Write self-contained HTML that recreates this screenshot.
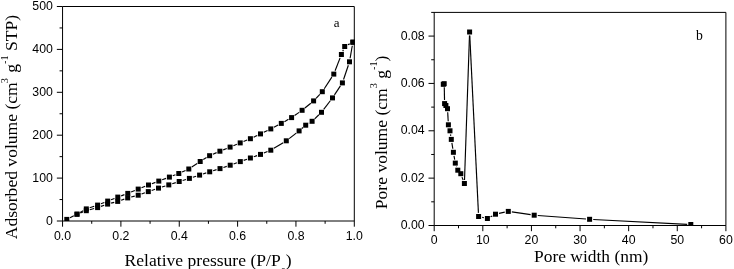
<!DOCTYPE html>
<html lang="en"><head><meta charset="utf-8"><title>Adsorption isotherm and pore size distribution</title>
<style>html,body{margin:0;padding:0;background:#fff;overflow:hidden}svg{display:block}</style>
</head><body>
<svg width="734" height="269" viewBox="0 0 734 269">
<defs><clipPath id="cr"><rect x="434.2" y="12.4" width="291.7" height="213.4"/></clipPath><clipPath id="cl"><rect x="62.55" y="6.5" width="292.25" height="214.4"/></clipPath></defs>
<rect width="734" height="269" fill="#fff"/>
<g stroke="#000" stroke-width="1" fill="none"><path d="M62.55 6.5H354.3V221.0H62.55V6.5"/><line x1="62.55" y1="221.0" x2="62.55" y2="226.7"/><line x1="91.72" y1="221.0" x2="91.72" y2="223.8"/><line x1="120.90" y1="221.0" x2="120.90" y2="226.7"/><line x1="150.07" y1="221.0" x2="150.07" y2="223.8"/><line x1="179.25" y1="221.0" x2="179.25" y2="226.7"/><line x1="208.43" y1="221.0" x2="208.43" y2="223.8"/><line x1="237.60" y1="221.0" x2="237.60" y2="226.7"/><line x1="266.77" y1="221.0" x2="266.77" y2="223.8"/><line x1="295.95" y1="221.0" x2="295.95" y2="226.7"/><line x1="325.12" y1="221.0" x2="325.12" y2="223.8"/><line x1="354.30" y1="221.0" x2="354.30" y2="226.7"/><line x1="56.849999999999994" y1="221.00" x2="62.55" y2="221.00"/><line x1="59.55" y1="199.55" x2="62.55" y2="199.55"/><line x1="56.849999999999994" y1="178.10" x2="62.55" y2="178.10"/><line x1="59.55" y1="156.65" x2="62.55" y2="156.65"/><line x1="56.849999999999994" y1="135.20" x2="62.55" y2="135.20"/><line x1="59.55" y1="113.75" x2="62.55" y2="113.75"/><line x1="56.849999999999994" y1="92.30" x2="62.55" y2="92.30"/><line x1="59.55" y1="70.85" x2="62.55" y2="70.85"/><line x1="56.849999999999994" y1="49.40" x2="62.55" y2="49.40"/><line x1="59.55" y1="27.95" x2="62.55" y2="27.95"/><line x1="56.849999999999994" y1="6.50" x2="62.55" y2="6.50"/></g><g font-family="Liberation Sans, Arial, sans-serif" font-size="12.3" fill="#000"><text x="62.55" y="240.3" text-anchor="middle">0.0</text><text x="120.90" y="240.3" text-anchor="middle">0.2</text><text x="179.25" y="240.3" text-anchor="middle">0.4</text><text x="237.60" y="240.3" text-anchor="middle">0.6</text><text x="295.95" y="240.3" text-anchor="middle">0.8</text><text x="354.30" y="240.3" text-anchor="middle">1.0</text><text x="52.9" y="224.55" text-anchor="end">0</text><text x="52.9" y="181.65" text-anchor="end">100</text><text x="52.9" y="138.75" text-anchor="end">200</text><text x="52.9" y="95.85" text-anchor="end">300</text><text x="52.9" y="52.95" text-anchor="end">400</text><text x="52.9" y="10.05" text-anchor="end">500</text></g>
<g clip-path="url(#cl)"><g stroke="#000" stroke-width="1.15" fill="none"><line x1="70.01" y1="217.76" x2="73.79" y2="215.84"/><line x1="80.37" y1="212.93" x2="82.93" y2="211.97"/><line x1="89.77" y1="209.75" x2="94.13" y2="208.55"/><line x1="101.00" y1="206.41" x2="104.20" y2="205.29"/><line x1="111.08" y1="203.17" x2="114.22" y2="202.33"/><line x1="121.10" y1="200.21" x2="124.30" y2="199.09"/><line x1="131.19" y1="197.00" x2="134.71" y2="196.10"/><line x1="141.59" y1="193.99" x2="144.91" y2="192.81"/><line x1="151.71" y1="190.43" x2="155.09" y2="189.27"/><line x1="161.94" y1="187.03" x2="165.36" y2="185.97"/><line x1="172.22" y1="183.78" x2="175.78" y2="182.62"/><line x1="182.64" y1="180.45" x2="185.96" y2="179.45"/><line x1="192.83" y1="177.29" x2="196.17" y2="176.21"/><line x1="203.02" y1="173.98" x2="206.28" y2="172.92"/><line x1="213.14" y1="170.73" x2="216.56" y2="169.67"/><line x1="223.42" y1="167.46" x2="226.78" y2="166.34"/><line x1="233.59" y1="163.99" x2="236.91" y2="162.81"/><line x1="243.69" y1="160.39" x2="247.01" y2="159.21"/><line x1="253.79" y1="156.79" x2="257.11" y2="155.61"/><line x1="263.83" y1="153.04" x2="267.47" y2="151.56"/><line x1="273.88" y1="148.33" x2="283.22" y2="142.67"/><line x1="289.15" y1="138.60" x2="296.25" y2="133.10"/><line x1="301.82" y1="128.55" x2="302.98" y2="127.55"/><line x1="308.77" y1="123.33" x2="309.03" y2="123.17"/><line x1="314.70" y1="118.81" x2="318.90" y2="114.79"/><line x1="323.69" y1="109.44" x2="330.31" y2="100.76"/><line x1="334.48" y1="94.90" x2="340.42" y2="85.90"/><line x1="343.55" y1="79.49" x2="348.35" y2="65.21"/><line x1="350.12" y1="58.25" x2="352.28" y2="45.75"/></g><g fill="#000"><rect x="64.30" y="216.90" width="5.0" height="5.0"/><rect x="74.50" y="211.70" width="5.0" height="5.0"/><rect x="83.80" y="208.20" width="5.0" height="5.0"/><rect x="95.10" y="205.10" width="5.0" height="5.0"/><rect x="105.10" y="201.60" width="5.0" height="5.0"/><rect x="115.20" y="198.90" width="5.0" height="5.0"/><rect x="125.20" y="195.40" width="5.0" height="5.0"/><rect x="135.70" y="192.70" width="5.0" height="5.0"/><rect x="145.80" y="189.10" width="5.0" height="5.0"/><rect x="156.00" y="185.60" width="5.0" height="5.0"/><rect x="166.30" y="182.40" width="5.0" height="5.0"/><rect x="176.70" y="179.00" width="5.0" height="5.0"/><rect x="186.90" y="175.90" width="5.0" height="5.0"/><rect x="197.10" y="172.60" width="5.0" height="5.0"/><rect x="207.20" y="169.30" width="5.0" height="5.0"/><rect x="217.50" y="166.10" width="5.0" height="5.0"/><rect x="227.70" y="162.70" width="5.0" height="5.0"/><rect x="237.80" y="159.10" width="5.0" height="5.0"/><rect x="247.90" y="155.50" width="5.0" height="5.0"/><rect x="258.00" y="151.90" width="5.0" height="5.0"/><rect x="268.30" y="147.70" width="5.0" height="5.0"/><rect x="283.80" y="138.30" width="5.0" height="5.0"/><rect x="296.60" y="128.40" width="5.0" height="5.0"/><rect x="303.20" y="122.70" width="5.0" height="5.0"/><rect x="309.60" y="118.80" width="5.0" height="5.0"/><rect x="319.00" y="109.80" width="5.0" height="5.0"/><rect x="330.00" y="95.40" width="5.0" height="5.0"/><rect x="339.90" y="80.40" width="5.0" height="5.0"/><rect x="347.00" y="59.30" width="5.0" height="5.0"/><rect x="350.40" y="39.70" width="5.0" height="5.0"/></g><g stroke="#000" stroke-width="1.15" fill="none"><line x1="349.71" y1="43.87" x2="347.89" y2="44.83"/><line x1="343.33" y1="49.83" x2="342.77" y2="51.17"/><line x1="340.10" y1="57.86" x2="335.10" y2="70.74"/><line x1="331.83" y1="77.11" x2="324.27" y2="88.69"/><line x1="319.83" y1="94.32" x2="316.07" y2="98.28"/><line x1="310.81" y1="103.18" x2="304.89" y2="108.02"/><line x1="299.14" y1="112.36" x2="294.56" y2="115.54"/><line x1="288.46" y1="119.37" x2="284.44" y2="121.63"/><line x1="278.11" y1="125.07" x2="273.99" y2="127.23"/><line x1="267.56" y1="130.47" x2="263.74" y2="132.33"/><line x1="257.25" y1="135.45" x2="253.65" y2="137.15"/><line x1="247.07" y1="140.07" x2="243.53" y2="141.53"/><line x1="236.88" y1="144.28" x2="233.42" y2="145.72"/><line x1="226.76" y1="148.44" x2="223.24" y2="149.86"/><line x1="216.60" y1="152.64" x2="212.90" y2="154.26"/><line x1="206.54" y1="157.59" x2="203.26" y2="159.61"/><line x1="197.19" y1="163.48" x2="191.81" y2="167.02"/><line x1="185.52" y1="170.48" x2="182.08" y2="172.02"/><line x1="175.44" y1="174.79" x2="172.76" y2="175.81"/><line x1="166.03" y1="178.37" x2="162.17" y2="179.83"/><line x1="155.43" y1="182.37" x2="151.87" y2="183.73"/><line x1="145.16" y1="186.33" x2="141.54" y2="187.77"/><line x1="134.87" y1="190.48" x2="131.13" y2="192.02"/><line x1="124.42" y1="194.65" x2="121.18" y2="195.85"/><line x1="114.45" y1="198.43" x2="111.05" y2="199.77"/><line x1="104.35" y1="202.43" x2="100.95" y2="203.77"/><line x1="94.19" y1="206.25" x2="89.71" y2="207.75"/><line x1="83.17" y1="210.68" x2="80.13" y2="212.42"/></g><g fill="#000"><rect x="350.40" y="39.70" width="5.0" height="5.0"/><rect x="342.20" y="44.00" width="5.0" height="5.0"/><rect x="338.90" y="52.00" width="5.0" height="5.0"/><rect x="331.30" y="71.60" width="5.0" height="5.0"/><rect x="319.80" y="89.20" width="5.0" height="5.0"/><rect x="311.10" y="98.40" width="5.0" height="5.0"/><rect x="299.60" y="107.80" width="5.0" height="5.0"/><rect x="289.10" y="115.10" width="5.0" height="5.0"/><rect x="278.80" y="120.90" width="5.0" height="5.0"/><rect x="268.30" y="126.40" width="5.0" height="5.0"/><rect x="258.00" y="131.40" width="5.0" height="5.0"/><rect x="247.90" y="136.20" width="5.0" height="5.0"/><rect x="237.70" y="140.40" width="5.0" height="5.0"/><rect x="227.60" y="144.60" width="5.0" height="5.0"/><rect x="217.40" y="148.70" width="5.0" height="5.0"/><rect x="207.10" y="153.20" width="5.0" height="5.0"/><rect x="197.70" y="159.00" width="5.0" height="5.0"/><rect x="186.30" y="166.50" width="5.0" height="5.0"/><rect x="176.30" y="171.00" width="5.0" height="5.0"/><rect x="166.90" y="174.60" width="5.0" height="5.0"/><rect x="156.30" y="178.60" width="5.0" height="5.0"/><rect x="146.00" y="182.50" width="5.0" height="5.0"/><rect x="135.70" y="186.60" width="5.0" height="5.0"/><rect x="125.30" y="190.90" width="5.0" height="5.0"/><rect x="115.30" y="194.60" width="5.0" height="5.0"/><rect x="105.20" y="198.60" width="5.0" height="5.0"/><rect x="95.10" y="202.60" width="5.0" height="5.0"/><rect x="83.80" y="206.40" width="5.0" height="5.0"/><rect x="74.50" y="211.70" width="5.0" height="5.0"/></g></g>
<g stroke="#000" stroke-width="1" fill="none"><path d="M431.2 12.4H725.9V225.5H434.2V12.4"/><line x1="434.20" y1="225.5" x2="434.20" y2="231.2"/><line x1="458.51" y1="225.5" x2="458.51" y2="228.3"/><line x1="482.82" y1="225.5" x2="482.82" y2="231.2"/><line x1="507.12" y1="225.5" x2="507.12" y2="228.3"/><line x1="531.43" y1="225.5" x2="531.43" y2="231.2"/><line x1="555.74" y1="225.5" x2="555.74" y2="228.3"/><line x1="580.05" y1="225.5" x2="580.05" y2="231.2"/><line x1="604.36" y1="225.5" x2="604.36" y2="228.3"/><line x1="628.67" y1="225.5" x2="628.67" y2="231.2"/><line x1="652.98" y1="225.5" x2="652.98" y2="228.3"/><line x1="677.28" y1="225.5" x2="677.28" y2="231.2"/><line x1="701.59" y1="225.5" x2="701.59" y2="228.3"/><line x1="725.90" y1="225.5" x2="725.90" y2="231.2"/><line x1="428.5" y1="225.50" x2="434.2" y2="225.50"/><line x1="431.2" y1="201.82" x2="434.2" y2="201.82"/><line x1="428.5" y1="178.14" x2="434.2" y2="178.14"/><line x1="431.2" y1="154.47" x2="434.2" y2="154.47"/><line x1="428.5" y1="130.79" x2="434.2" y2="130.79"/><line x1="431.2" y1="107.11" x2="434.2" y2="107.11"/><line x1="428.5" y1="83.43" x2="434.2" y2="83.43"/><line x1="431.2" y1="59.76" x2="434.2" y2="59.76"/><line x1="428.5" y1="36.08" x2="434.2" y2="36.08"/></g><g font-family="Liberation Sans, Arial, sans-serif" font-size="12.3" fill="#000"><text x="434.20" y="244.1" text-anchor="middle">0</text><text x="482.82" y="244.1" text-anchor="middle">10</text><text x="531.43" y="244.1" text-anchor="middle">20</text><text x="580.05" y="244.1" text-anchor="middle">30</text><text x="628.67" y="244.1" text-anchor="middle">40</text><text x="677.28" y="244.1" text-anchor="middle">50</text><text x="725.90" y="244.1" text-anchor="middle">60</text><text x="424.6" y="229.05" text-anchor="end">0.00</text><text x="424.6" y="181.69" text-anchor="end">0.02</text><text x="424.6" y="134.34" text-anchor="end">0.04</text><text x="424.6" y="86.98" text-anchor="end">0.06</text><text x="424.6" y="39.63" text-anchor="end">0.08</text></g>
<g clip-path="url(#cr)"><g stroke="#000" stroke-width="1.15" fill="none"><line x1="444.27" y1="87.30" x2="444.53" y2="100.00"/><line x1="447.70" y1="112.29" x2="448.20" y2="121.21"/><line x1="450.54" y1="134.36" x2="450.76" y2="135.84"/><line x1="451.88" y1="142.95" x2="452.82" y2="148.75"/><line x1="454.02" y1="155.85" x2="454.68" y2="159.55"/><line x1="456.50" y1="166.50" x2="456.60" y2="166.80"/><line x1="462.04" y1="177.08" x2="463.16" y2="180.12"/><line x1="464.52" y1="179.90" x2="469.48" y2="35.60"/><line x1="469.78" y1="35.60" x2="478.42" y2="212.90"/><line x1="482.11" y1="217.30" x2="483.89" y2="217.70"/><line x1="490.58" y1="216.81" x2="492.32" y2="215.89"/><line x1="499.02" y1="213.43" x2="504.78" y2="212.17"/><line x1="511.86" y1="211.92" x2="530.64" y2="214.68"/><line x1="537.79" y1="215.47" x2="586.01" y2="219.03"/><line x1="593.20" y1="219.48" x2="687.20" y2="224.32"/></g><g fill="#000"><rect x="440.80" y="81.80" width="5.0" height="5.0"/><rect x="441.70" y="81.20" width="5.0" height="5.0"/><rect x="442.10" y="101.10" width="5.0" height="5.0"/><rect x="443.40" y="103.00" width="5.0" height="5.0"/><rect x="445.00" y="106.20" width="5.0" height="5.0"/><rect x="445.90" y="122.30" width="5.0" height="5.0"/><rect x="447.50" y="128.30" width="5.0" height="5.0"/><rect x="448.80" y="136.90" width="5.0" height="5.0"/><rect x="450.90" y="149.80" width="5.0" height="5.0"/><rect x="452.80" y="160.60" width="5.0" height="5.0"/><rect x="455.30" y="167.70" width="5.0" height="5.0"/><rect x="458.30" y="171.20" width="5.0" height="5.0"/><rect x="461.90" y="181.00" width="5.0" height="5.0"/><rect x="467.10" y="29.50" width="5.0" height="5.0"/><rect x="476.10" y="214.00" width="5.0" height="5.0"/><rect x="484.90" y="216.00" width="5.0" height="5.0"/><rect x="493.00" y="211.70" width="5.0" height="5.0"/><rect x="505.80" y="208.90" width="5.0" height="5.0"/><rect x="531.70" y="212.70" width="5.0" height="5.0"/><rect x="587.10" y="216.80" width="5.0" height="5.0"/><rect x="688.30" y="222.00" width="5.0" height="5.0"/></g></g>

<g font-family="Liberation Serif, Times New Roman, serif" fill="#000" font-size="16.3">
<text transform="translate(124.6 265.9) scale(1.078 1)">Relative pressure (P/P<tspan font-size="9.5" dy="9.5">0</tspan><tspan dy="-9.5">)</tspan></text>
<text transform="translate(534.1 262.3) scale(1.069 1)">Pore width (nm)</text>
<text transform="translate(17.4 239.3) rotate(-90) scale(1.078 1)">Adsorbed volume (cm<tspan font-size="9.5" dy="-9.4" dx="-1">3</tspan><tspan dy="9.4" dx="1"> g</tspan><tspan font-size="9.5" dy="-9.4">-1</tspan><tspan dy="9.4"> STP)</tspan></text>
<text transform="translate(386.7 209.2) rotate(-90) scale(1.078 1)">Pore volume (cm<tspan font-size="9.5" dy="-9.4">3</tspan><tspan dy="9.4"> g</tspan><tspan font-size="9.5" dy="-9.4">-1</tspan><tspan dy="9.4">)</tspan></text>
<text x="333.7" y="26.8" font-size="13">a</text>
<text x="696.1" y="39.9" font-size="13.7">b</text>
</g>
</svg>
</body></html>
